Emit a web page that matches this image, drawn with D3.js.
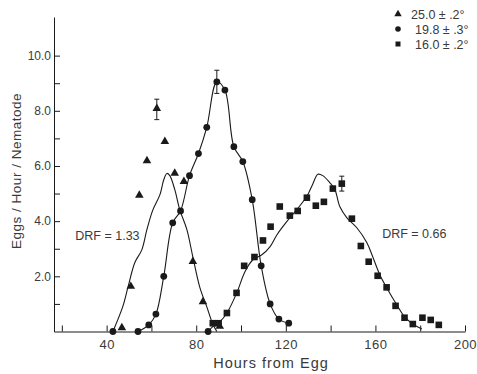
<!DOCTYPE html>
<html><head><meta charset="utf-8">
<script src="https://cdn.jsdelivr.net/npm/d3@7"></script>
<style>
body{margin:0;background:#fff;}
text{font-family:"Liberation Sans","DejaVu Sans",sans-serif;fill:#3a3a3a;}
</style></head>
<body><svg id="c" width="477" height="374"></svg>
<script>
// ---- data ----
const xTicks = [20,40,60,80,100,120,140,160,180,200];
const xTickLabels = [40,80,120,160,200];
const yTicks = [1,2,3,4,5,6,7,8,9,10];
const yTickLabels = [2,4,6,8,10];

const legendLabels = ["25.0 \u00B1 .2\u00B0","19.8 \u00B1 .3\u00B0","16.0 \u00B1 .2\u00B0"];

const tri25Hours  = [46.8,50.8,54.6,58,62.4,66,70.4,74.5,78.5,83,90.5];
const tri25Values = [0.1,1.6,4.9,6.15,8.05,6.85,5.7,5.4,2.5,1.04,0.15];
const tri25Err    = [{h:62.4,v:8.05,e:0.37}];

const circ19Hours  = [42.8,54,58.8,62,65.5,69.5,73,77,81,84.7,85.3,89.2,92.8,96.8,100.8,105,109,113,116.9,121.3];
const circ19Values = [0,0,0.24,0.63,2.0,3.94,4.37,5.65,6.45,7.4,0,9.05,8.75,6.7,6.16,4.78,2.38,1.0,0.45,0.3];
const circ19Err    = [{h:89.2,v:9.05,e:0.42}];

const sq16Hours  = [87.4,90,93.7,98,101.4,106,109.8,113.2,117.3,121.8,125.3,129.4,133.4,137,141,145,149.5,153.5,157,161,165,169,173,176.7,181,184.7,188.3];
const sq16Values = [0.3,0.3,0.67,1.4,2.38,2.7,3.3,3.8,4.53,4.2,4.37,4.85,4.56,4.7,5.18,5.36,4.09,3.1,2.53,2.02,1.6,0.93,0.5,0.27,0.5,0.42,0.24];
const sq16Err    = [{h:145,v:5.36,e:0.27}];

// fitted curves
const fit25Hours  = [42.8,47.2,49.5,52.6,55.7,58,60.6,63.8,65.5,66.9,68.2,70.4,72.7,75.8,78.5,81.6,84.7,87.4,89.2];
const fit25Values = [0,0.9,1.6,2.5,2.96,3.7,4.4,4.96,5.5,5.73,5.65,5.15,4.4,3.7,2.7,1.6,0.9,0.27,0];
const fit19Hours  = [54,58.8,62,65.5,69.5,73,77,81,84.7,89.2,92.8,96.8,100.8,105,109,113,116.9,121.3];
const fit19Values = [0,0.24,0.63,2.0,3.94,4.37,5.65,6.45,7.4,9.05,8.75,6.7,6.16,4.78,2.38,1.0,0.45,0.3];
const fit16Hours  = [85.2,88.3,90.5,93.7,98.1,101.7,105.3,109.3,112.9,116,120.4,124.9,129.4,132.1,134.3,136.5,139.6,141.9,144.1,147.2,151.7,156.2,158.8,162,165.1,169.6,173.1,176.7,180.7];
const fit16Values = [0,0.24,0.35,0.67,1.4,2.16,2.6,2.78,3.07,3.5,3.98,4.42,4.9,5.36,5.7,5.65,5.4,5.15,4.53,4.13,3.76,3.22,2.71,2.05,1.58,0.96,0.53,0.27,0.09];

const drfLabels = [{h:26,v:3.3,t:"DRF = 1.33"},{h:163,v:3.4,t:"DRF = 0.66"}];

// ---- chart ----
const svg = d3.select("#c");
const x = d3.scaleLinear().domain([16.5,200]).range([54,465]);
const y = d3.scaleLinear().domain([0,11.4]).range([331.5,17]);
const ink = "#1a1a1a";

// axes
const xAxis = d3.axisBottom(x).tickValues(xTicks).tickSizeInner(-6).tickSizeOuter(0)
  .tickFormat(d => xTickLabels.includes(d) ? d : "");
const gx = svg.append("g").attr("transform",`translate(0,${y(0)})`).call(xAxis);
gx.select(".domain").attr("stroke",ink);
gx.selectAll(".tick line").attr("stroke",ink);
gx.selectAll(".tick text").attr("dy","1.1em").style("font-size","13px").style("letter-spacing","0.5px").attr("fill","#3a3a3a");

const yAxis = d3.axisLeft(y).tickValues(yTicks).tickSizeInner(-6).tickSizeOuter(0)
  .tickFormat(d => yTickLabels.includes(d) ? d3.format(".1f")(d) : "");
const gy = svg.append("g").attr("transform",`translate(${x(16.5)},0)`).call(yAxis);
gy.select(".domain").attr("stroke",ink);
gy.selectAll(".tick line").attr("stroke",ink);
gy.selectAll(".tick text").attr("x",-3).style("font-size","12px").attr("fill","#3a3a3a");

// axis titles
svg.append("text").attr("x",271).attr("y",368).attr("text-anchor","middle")
  .style("font-size","14.5px").style("letter-spacing","1px").text("Hours from Egg");
svg.append("text").attr("transform","translate(21,171) rotate(-90)").attr("text-anchor","middle")
  .style("font-size","13.5px").style("letter-spacing","0.5px").text("Eggs / Hour / Nematode");

// fitted curves
const line = d3.line().x(d=>x(d[0])).y(d=>y(d[1])).curve(d3.curveCatmullRom.alpha(0.5));
[[fit25Hours,fit25Values],[fit19Hours,fit19Values],[fit16Hours,fit16Values]].forEach(([hs,vs])=>{
  svg.append("path").datum(d3.zip(hs,vs)).attr("d",line)
    .attr("fill","none").attr("stroke",ink).attr("stroke-width",1.1);
});

// error bars
function errBars(arr){
  arr.forEach(d=>{
    const g = svg.append("g").attr("stroke",ink).attr("stroke-width",1);
    g.append("line").attr("x1",x(d.h)).attr("x2",x(d.h)).attr("y1",y(d.v+d.e)).attr("y2",y(d.v-d.e));
    [d.v+d.e,d.v-d.e].forEach(v=>g.append("line").attr("x1",x(d.h)-2.5).attr("x2",x(d.h)+2.5).attr("y1",y(v)).attr("y2",y(v)));
  });
}
errBars(tri25Err); errBars(circ19Err); errBars(sq16Err);

// markers
const triSym = d3.symbol().type(d3.symbolTriangle).size(32);
svg.append("g").selectAll("path").data(d3.zip(tri25Hours,tri25Values)).join("path")
  .attr("d",triSym).attr("transform",d=>`translate(${x(d[0])},${y(d[1])-1})`).attr("fill",ink);
svg.append("g").selectAll("circle").data(d3.zip(circ19Hours,circ19Values)).join("circle")
  .attr("cx",d=>x(d[0])).attr("cy",d=>y(d[1])).attr("r",3.4).attr("fill",ink);
svg.append("g").selectAll("rect").data(d3.zip(sq16Hours,sq16Values)).join("rect")
  .attr("x",d=>x(d[0])-3.3).attr("y",d=>y(d[1])-3.3).attr("width",6.6).attr("height",6.6).attr("fill",ink);

// DRF labels
svg.selectAll("text.drf").data(drfLabels).join("text").attr("class","drf")
  .attr("x",d=>x(d.h)).attr("y",d=>y(d.v)).style("font-size","12.5px").text(d=>d.t);

// legend
const lg = svg.append("g");
const ly = [14,29,44];
lg.append("path").attr("d",d3.symbol().type(d3.symbolTriangle).size(24)).attr("transform",`translate(398,${ly[0]})`).attr("fill",ink);
lg.append("circle").attr("cx",398).attr("cy",ly[1]).attr("r",2.8).attr("fill",ink);
lg.append("rect").attr("x",395.5).attr("y",ly[2]-2.5).attr("width",5).attr("height",5).attr("fill",ink);
legendLabels.forEach((t,i)=>{
  lg.append("text").attr("x",i===0?411:415).attr("y",ly[i]+5).style("font-size","12.5px").text(t);
});
</script></body></html>
